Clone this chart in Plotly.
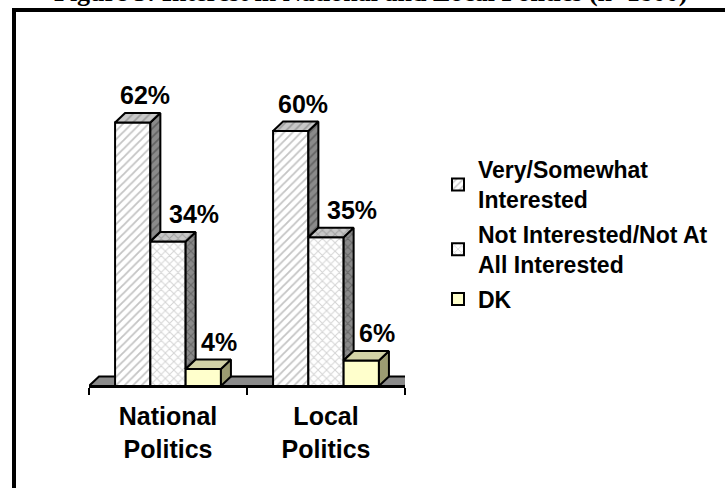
import plotly.graph_objects as go

# ---- data ----
categories = ["National<br>Politics", "Local<br>Politics"]
series_names = ["Very/Somewhat<br>Interested", "Not Interested/Not At<br>All Interested", "DK"]
very_somewhat = [62, 60]
not_interested = [34, 35]
dont_know = [4, 6]
series_values = [very_somewhat, not_interested, dont_know]

# ---- layout geometry ----
W, H = 725, 488
M_L, M_R, M_T, M_B = 89, 320, 90, 102
PLOT_W = W - M_L - M_R
PLOT_H = H - M_T - M_B
PX_PER_PCT = 4.25
Y_MAX = PLOT_H / PX_PER_PCT
X_MIN, X_MAX = -0.5, 1.5
PX_PER_X = PLOT_W / (X_MAX - X_MIN)

BARGAP = 0.33
BAR_W = (1 - BARGAP) / 3
DEPTH_X = 10 / PX_PER_X          # 3-D depth, horizontal (axis units)
DEPTH_Y = 9.5 / PX_PER_PCT       # 3-D depth, vertical (percent units)

FONT = "Liberation Sans, Arial, sans-serif"
EDGE_W = 2


def px_to_paper_x(px):
    return (px - M_L) / PLOT_W


def px_to_paper_y(py):
    return (H - M_B - py) / PLOT_H


# face styles per series: (front, top, side)
styles = [
    dict(front=dict(shape="/", fg="#8a8a8a", bg="#ffffff"),
         top=dict(shape="/", fg="#707070", bg="#c8c8c8"),
         side=dict(shape="/", fg="#3c3c3c", bg="#8a8a8a")),
    dict(front=dict(shape="x", fg="#a8a8a8", bg="#ffffff"),
         top=dict(shape="x", fg="#787878", bg="#c8c8c8"),
         side=dict(shape="x", fg="#404040", bg="#8a8a8a")),
    dict(front=dict(shape="", fg="#ffffcc", bg="#ffffcc"),
         top=dict(shape="", fg="#d2d2a6", bg="#d2d2a6"),
         side=dict(shape="", fg="#9c9c72", bg="#9c9c72")),
]
label_xshift = [12, 26, 16]

fig = go.Figure()

# front faces as real bars (also give the legend swatches)
for i, (name, vals) in enumerate(zip(series_names, series_values)):
    st = styles[i]["front"]
    fig.add_trace(go.Bar(
        x=[0, 1], y=vals, name=name, legendgroup=f"s{i}",
        marker=dict(
            color=st["bg"],
            line=dict(color="black", width=EDGE_W),
            pattern=dict(shape=st["shape"], fgcolor=st["fg"], bgcolor=st["bg"],
                         size=6, solidity=0.3, fillmode="overlay"),
        ),
        hoverinfo="skip",
    ))


def poly(xs, ys, st):
    fig.add_trace(go.Scatter(
        x=xs + [xs[0]], y=ys + [ys[0]], mode="lines", fill="toself",
        fillcolor=st["bg"],
        fillpattern=dict(shape=st["shape"], fgcolor=st["fg"], bgcolor=st["bg"],
                         size=6, solidity=0.3) if st["shape"] else None,
        line=dict(color="black", width=EDGE_W),
        showlegend=False, hoverinfo="skip",
    ))


# side and top faces of each column
for g in range(len(categories)):
    for i, vals in enumerate(series_values):
        v = vals[g]
        xl = g + (i - 1) * BAR_W - BAR_W / 2
        xr = xl + BAR_W
        nxt = series_values[i + 1][g] if i + 1 < len(series_values) else 0
        low = max(nxt, 0)
        if low < v:
            poly([xr, xr + DEPTH_X, xr + DEPTH_X, xr],
                 [low, low + DEPTH_Y, v + DEPTH_Y, v], styles[i]["side"])
        poly([xl, xr, xr + DEPTH_X, xl + DEPTH_X],
             [v, v, v + DEPTH_Y, v + DEPTH_Y], styles[i]["top"])

# value labels
annotations = []
for g in range(len(categories)):
    for i, vals in enumerate(series_values):
        v = vals[g]
        xc = g + (i - 1) * BAR_W
        annotations.append(dict(
            x=xc, y=v + DEPTH_Y, xref="x", yref="y", text=f"{v}%",
            showarrow=False, yanchor="bottom", xanchor="center",
            xshift=label_xshift[i], yshift=2,
            font=dict(family=FONT, size=25, color="black", weight="bold"),
        ))

# figure title along the very top edge
annotations.append(dict(
    x=px_to_paper_x(371), y=px_to_paper_y(9), xref="paper", yref="paper",
    text="<b>Figure 3: Interest in National and Local Politics (n=1800)</b>",
    showarrow=False, xanchor="center", yanchor="bottom",
    font=dict(family="Liberation Serif, Times New Roman, serif", size=26, color="black"),
))

shapes = [
    # floor of the 3-D chart
    dict(type="path", xref="x", yref="y", layer="below",
         path=(f"M {X_MIN},0 L {X_MAX},0 L {X_MAX + DEPTH_X},{DEPTH_Y} "
               f"L {X_MIN + DEPTH_X},{DEPTH_Y} Z"),
         fillcolor="#8a8a8a", line=dict(color="black", width=EDGE_W)),
    # page frame: left and top rules
    dict(type="line", xref="paper", yref="paper",
         x0=px_to_paper_x(14), x1=px_to_paper_x(14),
         y0=px_to_paper_y(8), y1=px_to_paper_y(H + 5),
         line=dict(color="black", width=4)),
    dict(type="line", xref="paper", yref="paper",
         x0=px_to_paper_x(12), x1=px_to_paper_x(W + 5),
         y0=px_to_paper_y(10), y1=px_to_paper_y(10),
         line=dict(color="black", width=4)),
]

fig.update_layout(
    width=W, height=H,
    margin=dict(l=M_L, r=M_R, t=M_T, b=M_B, pad=0),
    paper_bgcolor="white", plot_bgcolor="white",
    barmode="group", bargap=BARGAP, bargroupgap=0,
    showlegend=True,
    legend=dict(
        x=px_to_paper_x(438), y=px_to_paper_y(148), xanchor="left", yanchor="top",
        font=dict(family=FONT, size=23, color="black", weight="bold"),
        bgcolor="rgba(0,0,0,0)", borderwidth=0, traceorder="grouped",
        tracegroupgap=2,
    ),
    xaxis=dict(
        range=[X_MIN, X_MAX], tickmode="array", tickvals=[0, 1], ticktext=categories,
        ticks="", showgrid=False, zeroline=False,
        showline=True, linecolor="black", linewidth=2,
        ticklabelstandoff=7,
        tickfont=dict(family=FONT, size=25, color="black", weight="bold"),
        minor=dict(tickmode="array", tickvals=[-0.5, 0.5, 1.5], ticks="outside",
                   ticklen=7, tickwidth=2, tickcolor="black", showgrid=False),
        fixedrange=True,
    ),
    yaxis=dict(range=[0, Y_MAX], visible=False, fixedrange=True),
    annotations=annotations,
    shapes=shapes,
)

fig.write_html("out.html")
